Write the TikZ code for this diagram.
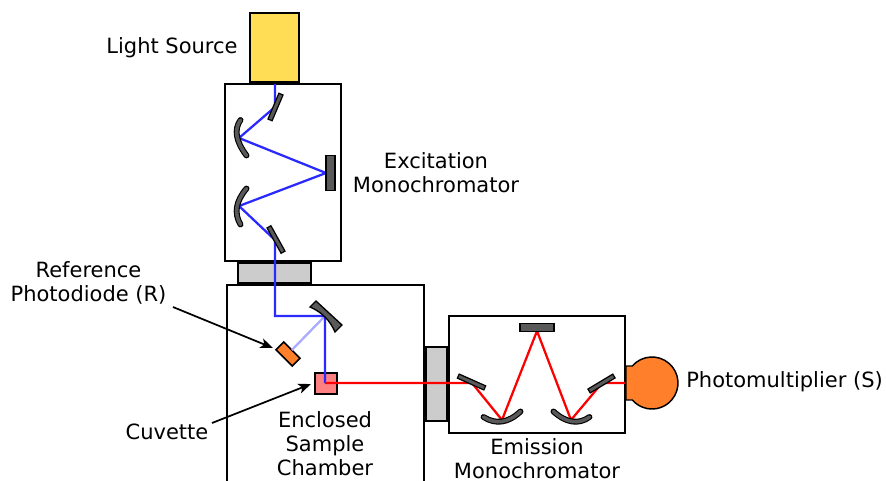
\documentclass[tikz,border=0pt]{standalone}
\usepackage{fontspec}
\setmainfont{DejaVu Sans}
\usetikzlibrary{arrows.meta}
\def\px{0.75pt}
\definecolor{lampYellow}{HTML}{FFDD55}
\definecolor{slabGray}{HTML}{CCCCCC}
\definecolor{mirrorGray}{HTML}{595959}
\definecolor{diodeOrange}{HTML}{FF7F2A}
\definecolor{cellPink}{HTML}{FF8080}
\definecolor{beamBlue}{HTML}{2A2AFF}
\definecolor{beamPale}{HTML}{AAAAFF}
\tikzstyle{block} = [draw, line width=1.6pt, inner sep=0pt, outer sep=0pt]
\tikzstyle{blockLamp} = [block, fill=lampYellow]
\tikzstyle{blockMono} = [draw, line width=1.25pt, inner sep=0pt, outer sep=0pt, fill=white]
\tikzstyle{blockSlab} = [block, fill=slabGray]
\tikzstyle{blockCell} = [draw, line width=1.1pt, inner sep=0pt, outer sep=0pt, fill=cellPink]
\tikzstyle{blockDiode} = [blockCell, fill=diodeOrange]
\tikzstyle{mirrorFlat} = [draw, line width=0.9pt, inner sep=0pt, outer sep=0pt, fill=mirrorGray]
\tikzstyle{tag} = [inner sep=0pt, font=\fontsize{15.75}{18}\selectfont, align=center]
\tikzstyle{beamIn} = [draw, line width=1.7pt, color=beamBlue]
\tikzstyle{beamRef} = [draw, line width=1.7pt, color=beamPale]
\tikzstyle{beamOut} = [draw, line width=1.7pt, color=red]
\tikzstyle{line} = [draw, line width=1.3pt, color=black, -{Stealth[length=9.5pt, width=7.5pt, inset=2.5pt]}]
\newcommand{\block}[5]{
node (#1) [#2, minimum width=#3*\px, minimum height=#4*\px, #5] {}}
\newcommand{\arcMirror}[4]{
  \draw [line width=4.4pt, line cap=round] (#1) .. controls (#2) and (#3) .. (#4);
  \draw [line width=2.7pt, line cap=round, color=mirrorGray] (#1) .. controls (#2) and (#3) .. (#4);}

\begin{document}
\begin{tikzpicture}[x=\px, y=-\px]
  \useasboundingbox (0,0) rectangle (886,480);

  % Draw the housings
  \path (274.5,47.5) \block{lamp}{blockLamp}{49}{69}{};
  \path (lamp.south)+(8.5,90.5) \block{exmono}{blockMono}{116}{177}{};
  \path (exmono.south)+(-8.5,12) \block{exslab}{blockSlab}{73}{21}{};
  \path (exslab.south)+(51,100.5) \block{sample}{blockMono}{197}{198}{};
  \path (sample.east)+(12.5,0) \block{emslab}{blockSlab}{21}{74}{};
  \path (emslab.east)+(90,-9.5) \block{emmono}{blockMono}{176}{117}{};
  \path (326,383.5) \block{cell}{blockCell}{22}{21}{};
  \path (288,354) \block{diode}{blockDiode}{23}{11}{rotate=-45};

  % Draw the beams
  \coordinate (entry) at (275,84);
  \coordinate (f1) at (275,107);
  \coordinate (m1) at (239,138);
  \coordinate (g1) at (326,173);
  \coordinate (m2) at (239,206);
  \coordinate (f2) at (275,240);
  \coordinate (turn) at (275,316);
  \coordinate (split) at (325,316);
  \coordinate (focus) at (325,383);
  \coordinate (f3) at (472,383);
  \coordinate (m3) at (502,420);
  \coordinate (g2) at (537,331);
  \coordinate (m4) at (571,420);
  \coordinate (f4) at (602,383);
  \coordinate (exit) at (625,383);
  \path [beamRef] (split) -- (diode);
  \path [beamIn] (entry) -- (f1) -- (m1) -- (g1) -- (m2) -- (f2) -- (turn) -- (split) -- (focus);
  \path [beamOut] (focus) -- (f3) -- (m3) -- (g2) -- (m4) -- (f4) -- (exit);

  % Draw the mirrors
  \path (275.5,107) \block{mirrorA}{mirrorFlat}{28}{4.5}{rotate=67};
  \path (276,239.5) \block{mirrorB}{mirrorFlat}{29}{4.5}{rotate=-61};
  \path (g1)+(4.5,0) \block{gratingA}{mirrorFlat}{9}{35}{};
  \path (g2)+(0,-3.5) \block{gratingB}{mirrorFlat}{34}{8}{};
  \path (471.5,382) \block{mirrorC}{mirrorFlat}{29}{4.5}{rotate=-24};
  \path (601.5,383.5) \block{mirrorD}{mirrorFlat}{29}{4.5}{rotate=31};
  \arcMirror{240.5,120}{233.8,129.5}{235.8,141.3}{246.5,155.5}
  \arcMirror{246.5,188.5}{235.8,201.2}{233.8,213.2}{240.5,224.5}
  \arcMirror{483.5,417}{495.8,424.8}{508.2,423}{520.5,411.5}
  \arcMirror{553.5,411.5}{566.2,423}{578.5,424.8}{589.5,417}
  \draw [mirrorFlat, line width=1pt] (316,301) -- (342,325) -- (335,332) .. controls (330,320.3) and (321.7,312) .. (310,307) -- cycle;

  % Draw the detector
  \draw [blockCell, fill=diodeOrange] (626,366) -- (632.3,366) arc[start angle=139.2, end angle=-139.2, radius=19.5pt] -- (626,400) -- cycle;

  % Draw the labels
  \path (172,48) node (lamptag) [tag] {Light Source};
  \path (436,173) node (extag) [tag] {Excitation\\Monochromator};
  \path (88.5,283) node (diodetag) [tag] {Reference\\Photodiode (R)};
  \path (167,432) node (celltag) [tag] {Cuvette};
  \path (325,444) node (sampletag) [tag] {Enclosed\\Sample\\Chamber};
  \path (537,459) node (emtag) [tag] {Emission\\Monochromator};
  \path (686,382) node (pmt) [tag, anchor=west] {Photomultiplier (S)};

  % Draw arrows between elements
  \path [line] (173,307) -- (273,348);
  \path [line] (212,423) -- (311,384);
\end{tikzpicture}
\end{document}
